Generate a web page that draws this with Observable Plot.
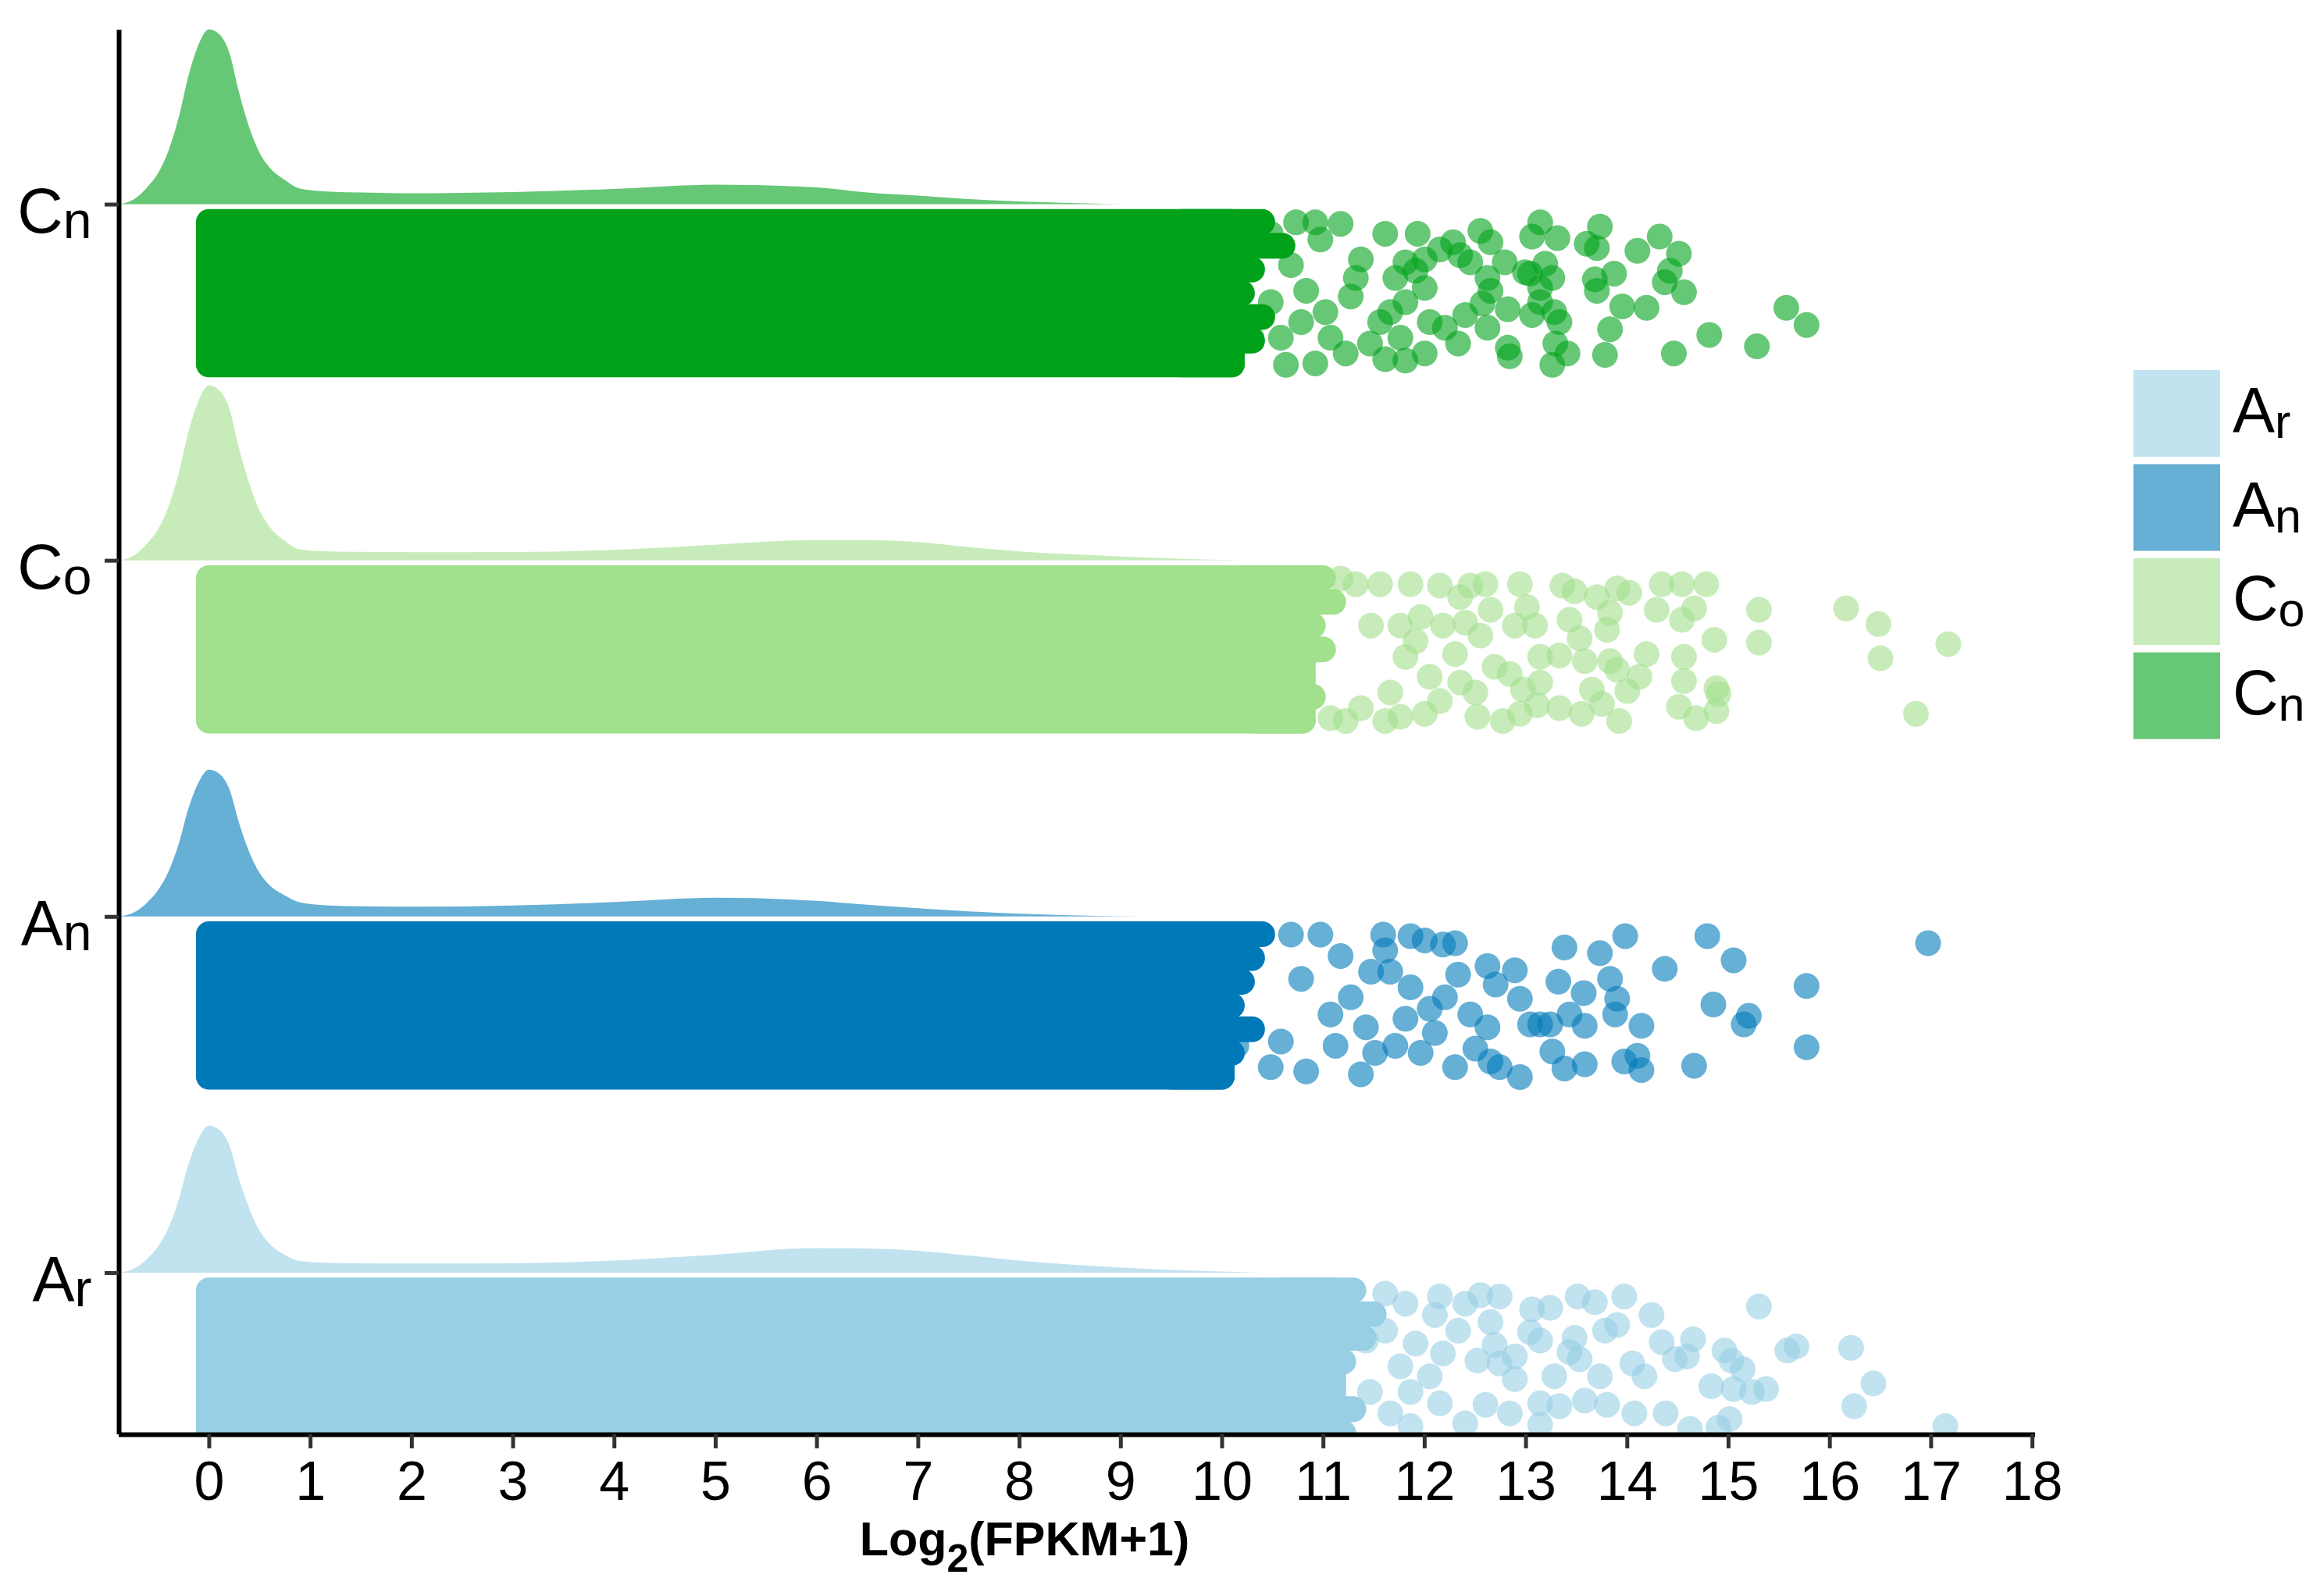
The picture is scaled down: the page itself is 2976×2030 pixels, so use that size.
<!DOCTYPE html>
<html><head><meta charset="utf-8">
<script src="https://cdn.jsdelivr.net/npm/d3@7"></script>
<script src="https://cdn.jsdelivr.net/npm/@observablehq/plot@0.6"></script>
<style>
html,body{margin:0;padding:0;background:#fff;}
#chart{width:2976px;height:2030px;}
</style></head><body><div id="chart"></div>
<script>
// ---- data ----
const groups = ["Ar", "An", "Co", "Cn"];            // bottom to top
const colors = ["#98cfe5", "#0079b9", "#a1e08c", "#00a21a"];
const xTicks = [0,1,2,3,4,5,6,7,8,9,10,11,12,13,14,15,16,17,18];

// density curves: [log2(FPKM+1), relative density height]
const densityAr = [[-0.9,0],[-0.84,1],[-0.7,8],[-0.6,19],[-0.5,34],[-0.4,57],[-0.3,92],[-0.2,139],[-0.1,172],[0,188],[0.1,183],[0.2,164],[0.3,119],[0.4,82],[0.5,54],[0.6,37],[0.75,23],[0.9,15],[1.2,12.5],[1.5,12],[2,11.7],[3,12],[4,15.5],[5,23],[6,31.5],[6.5,31],[7,28],[7.5,22],[8,15.5],[8.5,10.5],[9,6.5],[9.5,3.5],[10.4,0]];
const densityAn = [[-0.9,0],[-0.84,1],[-0.7,8],[-0.6,19],[-0.5,34],[-0.4,57],[-0.3,92],[-0.2,139],[-0.1,172],[0,188],[0.1,183],[0.2,164],[0.3,119],[0.4,82],[0.5,56],[0.6,40],[0.75,27],[0.9,18],[1.2,14],[1.5,13],[2,12.5],[3,14],[4,18.5],[5,24],[6,20],[6.5,15],[7,10.5],[7.5,6.5],[8,3.5],[8.5,1.5],[9.2,0]];
const densityCo = [[-0.9,0],[-0.84,1],[-0.7,10],[-0.6,23],[-0.5,40],[-0.4,68],[-0.3,110],[-0.2,165],[-0.1,205],[0,224],[0.1,218],[0.2,195],[0.3,142],[0.4,98],[0.5,64],[0.6,43],[0.75,25],[0.9,14],[1.2,11.5],[1.5,10.8],[2,10.5],[3,10.7],[4,13.5],[5,20],[6,26],[6.5,26],[7,23.5],[7.5,17],[8,11.5],[8.5,8],[9,5],[9.5,2.5],[10.2,0]];
const densityCn = [[-0.9,0],[-0.84,1],[-0.7,10],[-0.6,23],[-0.5,40],[-0.4,68],[-0.3,110],[-0.2,165],[-0.1,205],[0,224],[0.1,218],[0.2,195],[0.3,142],[0.4,98],[0.5,66],[0.6,47],[0.75,31],[0.9,20],[1.2,16],[1.5,15],[2,14],[3,15.5],[4,19.5],[5,25],[6,21.5],[6.5,15],[7,11],[7.5,6.5],[8,3.5],[8.5,1.5],[9,0]];

// dense core of points (thousands of overlapping points), one run per jitter row (top to bottom):
// every row starts at 0 and ends at the value below
const coreRowsJitter = [0, 1/6, 2/6, 3/6, 4/6, 5/6, 1];
const coreEndAr = [11.3, 11.5, 11.4, 11.2, 11.1, 11.3, 11.2];
const coreEndAn = [10.4, 10.3, 10.2, 10.1, 10.3, 10.1, 10.0];
const coreEndCo = [11.0, 11.1, 10.9, 11.0, 10.8, 10.9, 10.8];
const coreEndCn = [10.4, 10.6, 10.3, 10.2, 10.4, 10.3, 10.1];

// individually visible points: [value, jitter position 0 (top) .. 1 (bottom)]
const pointsAr = [[15.3,0.11],[17.14,0.95],[16.21,0.40],[16.43,0.65],[16.24,0.81],[15.58,0.42],[15.67,0.39],[15.37,0.69],[15.23,0.71],[15.14,0.55],[14.96,0.42],[15.03,0.49],[14.83,0.67],[15.05,0.69],[15.01,0.90],[14.9,0.96],[14.62,0.97],[14.65,0.34],[14.59,0.46],[14.47,0.48],[14.34,0.36],[14.38,0.86],[14.24,0.17],[14.07,0.86],[14.17,0.60],[14.05,0.51],[13.97,0.04],[13.9,0.24],[13.78,0.28],[13.73,0.60],[13.8,0.80],[13.58,0.77],[13.51,0.04],[13.68,0.08],[13.48,0.33],[13.43,0.43],[13.53,0.48],[13.33,0.81],[13.24,0.12],[13.28,0.60],[13.14,0.79],[13.14,0.94],[13.06,0.13],[13.04,0.29],[13.14,0.35],[12.89,0.46],[12.89,0.62],[12.84,0.86],[12.74,0.04],[12.55,0.03],[12.65,0.22],[12.69,0.38],[12.52,0.49],[12.74,0.51],[12.6,0.80],[12.4,0.93],[12.33,0.28],[12.4,0.09],[12.15,0.04],[12.1,0.17],[12.18,0.44],[12.15,0.79],[12.05,0.60],[11.91,0.37],[11.86,0.71],[11.81,0.09],[11.61,0.02],[11.61,0.28],[11.76,0.53],[11.66,0.86],[11.46,0.71],[11.42,0.35],[11.22,0.0],[11.37,0.20],[11.86,0.95]];
const pointsAn = [[16.97,0.06],[15.77,0.36],[15.77,0.79],[14.79,0.01],[15.05,0.18],[14.85,0.49],[15.2,0.57],[15.15,0.63],[14.66,0.92],[14.37,0.24],[13.98,0.01],[13.73,0.13],[13.38,0.09],[13.32,0.33],[13.83,0.31],[13.57,0.41],[13.9,0.45],[13.88,0.56],[14.14,0.64],[14.14,0.95],[14.1,0.85],[13.97,0.89],[13.58,0.91],[13.58,0.64],[13.43,0.56],[13.26,0.82],[13.38,0.94],[13.24,0.63],[13.04,0.63],[13.14,0.63],[12.94,1.0],[12.89,0.25],[12.94,0.45],[12.7,0.35],[12.62,0.22],[12.74,0.93],[12.65,0.89],[12.3,0.93],[12.5,0.80],[12.62,0.65],[12.45,0.56],[12.33,0.28],[12.2,0.44],[12.3,0.06],[12.18,0.07],[12.0,0.04],[11.86,0.01],[12.05,0.52],[12.1,0.69],[11.96,0.83],[11.71,0.78],[11.81,0.59],[11.86,0.37],[11.66,0.26],[11.59,0.0],[11.61,0.11],[11.47,0.26],[11.42,0.65],[11.51,0.83],[11.37,0.98],[11.27,0.44],[11.17,0.15],[10.97,0.0],[11.07,0.56],[11.12,0.78],[10.83,0.96],[10.78,0.31],[10.68,0.0],[10.58,0.75],[10.48,0.93],[10.29,0.0],[10.14,0.78]];
const pointsCo = [[15.3,0.22],[15.3,0.45],[16.16,0.21],[16.48,0.32],[16.5,0.56],[17.17,0.46],[16.85,0.95],[14.78,0.04],[14.54,0.04],[14.34,0.04],[14.66,0.21],[14.29,0.22],[14.54,0.29],[14.86,0.43],[14.56,0.55],[14.56,0.72],[14.88,0.77],[14.9,0.81],[14.88,0.93],[14.51,0.90],[14.68,0.98],[14.19,0.53],[14.12,0.69],[14.0,0.79],[13.92,1.0],[13.9,0.07],[14.02,0.10],[13.8,0.36],[13.83,0.24],[13.83,0.58],[13.9,0.64],[13.65,0.78],[13.75,0.88],[13.55,0.95],[13.58,0.58],[13.53,0.42],[13.7,0.13],[13.48,0.09],[13.36,0.05],[13.43,0.29],[13.33,0.54],[13.33,0.91],[13.14,0.55],[13.14,0.73],[13.11,0.89],[12.94,0.04],[13.01,0.20],[12.89,0.33],[13.09,0.33],[12.97,0.78],[12.77,1.0],[12.69,0.62],[12.84,0.67],[12.94,0.95],[12.55,0.40],[12.65,0.22],[12.6,0.04],[12.45,0.05],[12.3,0.53],[12.5,0.80],[12.52,0.97],[12.15,0.05],[12.35,0.13],[12.4,0.31],[12.18,0.33],[11.96,0.27],[11.86,0.04],[12.05,0.69],[12.15,0.86],[12.35,0.73],[12.0,0.95],[11.76,0.97],[11.61,1.0],[11.66,0.80],[11.56,0.04],[11.37,0.91],[11.17,0.0],[11.32,0.04],[11.22,1.0],[11.81,0.55],[11.76,0.33],[11.91,0.44],[11.47,0.33],[11.07,0.98]];
const pointsCn = [[11.93,0.08],[12.55,0.06],[12.65,0.14],[13.14,0.0],[13.06,0.10],[13.31,0.11],[13.73,0.03],[13.6,0.15],[13.7,0.18],[14.32,0.10],[14.1,0.2],[14.51,0.22],[14.42,0.34],[14.37,0.42],[14.56,0.49],[13.87,0.36],[13.68,0.40],[13.7,0.48],[13.95,0.59],[14.19,0.60],[13.83,0.75],[14.81,0.79],[14.46,0.92],[13.78,0.93],[15.28,0.87],[15.57,0.60],[15.77,0.72],[13.26,1.0],[13.41,0.92],[13.29,0.85],[13.33,0.70],[13.28,0.63],[13.14,0.56],[13.06,0.65],[13.14,0.46],[13.26,0.39],[13.04,0.36],[13.19,0.29],[12.99,0.35],[12.79,0.28],[12.62,0.39],[12.65,0.48],[12.82,0.61],[12.57,0.57],[12.4,0.65],[12.62,0.74],[12.82,0.88],[12.84,0.94],[12.33,0.85],[12.2,0.74],[12.0,0.92],[12.35,0.23],[12.28,0.14],[12.45,0.28],[12.15,0.19],[12.0,0.26],[11.91,0.34],[11.81,0.28],[12.0,0.46],[11.71,0.39],[11.66,0.63],[11.81,0.56],[12.05,0.70],[11.61,0.08],[11.56,0.70],[11.46,0.85],[11.61,0.96],[11.81,0.97],[11.76,0.81],[11.37,0.26],[11.32,0.39],[11.27,0.52],[11.22,0.92],[11.17,0.01],[10.92,0.0],[10.97,0.12],[11.02,0.63],[11.07,0.81],[10.92,0.99],[10.73,0.0],[10.68,0.30],[10.83,0.48],[10.78,0.70],[10.63,1.0],[10.48,0.08],[10.48,0.56],[10.58,0.81],[10.24,0.0],[10.29,0.81],[10.09,0.92],[9.99,0.0],[9.79,0.0]];

// ---- layout constants ----
const densityUnit = 456;          // relative density units per category step
const bandTop = 0.05, bandSpan = 0.40;
const dotR = 16.5;
const xDomain = [-0.89, 18.03];
const yDomain = [-0.454, 3.49];

const densities = [densityAr, densityAn, densityCo, densityCn];
const points = [pointsAr, pointsAn, pointsCo, pointsCn];
const coreEnds = [coreEndAr, coreEndAn, coreEndCo, coreEndCn];

const densRows = densities.flatMap((arr, gi) => arr.map(([x, h]) => ({group: groups[gi], x, y1: gi, y2: gi + h / densityUnit})));
// solid block up to the shortest run, then one run per jitter row for the ragged edge
const coreBlock = coreEnds.map((ends, gi) => ({group: groups[gi], x1: 0, x2: d3.min(ends), y1: gi - bandTop, y2: gi - bandTop - bandSpan}));
const coreRuns = coreEnds.flatMap((ends, gi) => ends.map((e, k) => {
  const yc = gi - bandTop - coreRowsJitter[k] * bandSpan;
  return {group: groups[gi], x1: d3.min(ends) - 0.5, x2: e, y1: yc, y2: yc};
}));
const pointRows = points.flatMap((arr, gi) => arr.map(([x, j]) => ({group: groups[gi], x, y: gi - bandTop - j * bandSpan})));

const plot = Plot.plot({
  width: 2976, height: 2030,
  marginLeft: 152, marginRight: 370, marginTop: 38, marginBottom: 193,
  x: {domain: xDomain, axis: null},
  y: {domain: yDomain, axis: null},
  color: {domain: groups, range: colors},
  style: {fontFamily: "'Liberation Sans', Arial, sans-serif", fontSize: "70px", background: "#fff", color: "#000"},
  marks: [
    Plot.areaY(densRows, {x: "x", y1: "y1", y2: "y2", z: "group", fill: "group", fillOpacity: 0.6, curve: "monotone-x"}),
    Plot.rect(coreBlock, {x1: "x1", x2: "x2", y1: "y1", y2: "y2", fill: "group", rx: dotR, inset: -dotR, clip: true}),
    Plot.rect(coreRuns, {x1: "x1", x2: "x2", y1: "y1", y2: "y2", fill: "group", rx: dotR, inset: -dotR, clip: true}),
    Plot.dot(pointRows, {x: "x", y: "y", r: dotR, fill: "group", fillOpacity: 0.6, stroke: null, clip: true}),
    Plot.ruleX([xDomain[0]], {stroke: "#000", strokeWidth: 6}),
    Plot.ruleY([yDomain[0]], {stroke: "#000", strokeWidth: 6}),
    Plot.axisX({ticks: xTicks, tickSize: 18, tickPadding: 16, stroke: "#333", strokeWidth: 5, fontSize: 70, label: null}),
    Plot.axisY({ticks: [0, 1, 2, 3], tickFormat: i => groups[i], tickSize: 18, tickPadding: 17, stroke: "#333", strokeWidth: 5, fontSize: 81, label: null})
  ]
});
document.getElementById("chart").appendChild(plot);

// subscripts on y tick labels
const svg = d3.select(plot);
svg.selectAll('g[aria-label="y-axis tick label"] text').each(function () {
  const t = d3.select(this);
  const s = t.text();
  t.text(null);
  t.append("tspan").attr("dy", 10).text(s[0]);
  t.append("tspan").attr("font-size", 66).attr("dy", 7).text(s.slice(1));
});

// x axis title
const xl = svg.append("text").attr("x", 1312).attr("y", 1992).attr("text-anchor", "middle")
  .attr("font-weight", "bold").attr("font-size", 61).attr("fill", "#000");
xl.append("tspan").text("Log");
xl.append("tspan").attr("font-size", 50).attr("dy", 21).text("2");
xl.append("tspan").attr("dy", -21).text("(FPKM+1)");

// legend
const lg = svg.append("g").attr("aria-label", "legend");
groups.forEach((g, i) => {
  const y0 = 474 + i * 120.5;
  lg.append("rect").attr("x", 2732).attr("y", y0).attr("width", 111).attr("height", 111)
    .attr("fill", colors[i]).attr("fill-opacity", 0.6);
  const t = lg.append("text").attr("x", 2859).attr("y", y0 + 79).attr("font-size", 81)
    .attr("text-anchor", "start").attr("fill", "#000");
  t.append("tspan").text(g[0]);
  t.append("tspan").attr("font-size", 61).attr("dy", 8).text(g.slice(1));
});
</script></body></html>
